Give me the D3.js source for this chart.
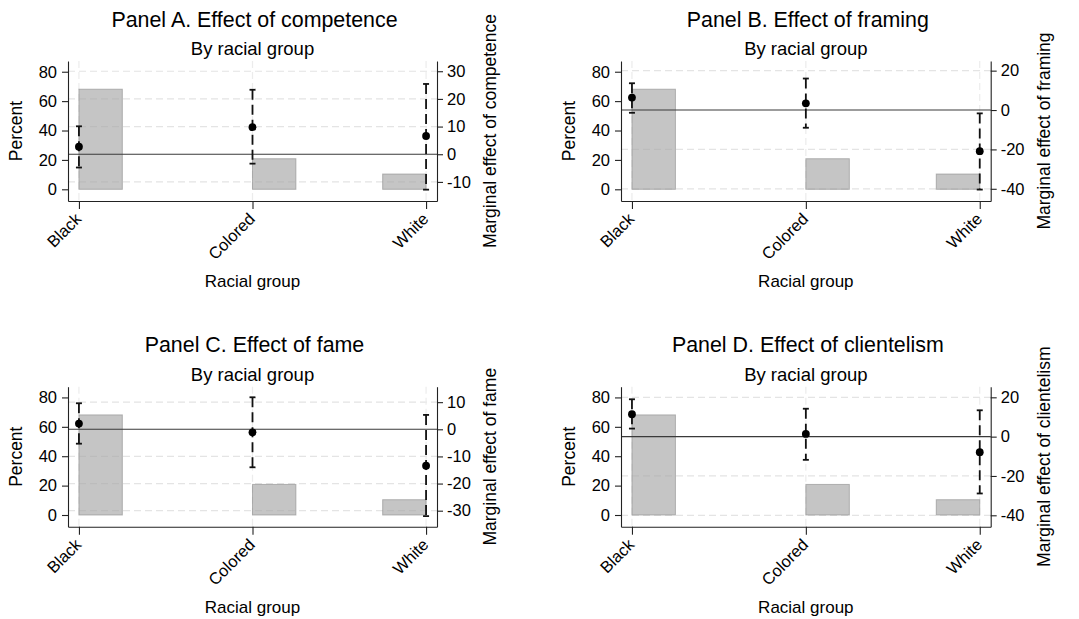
<!DOCTYPE html>
<html><head><meta charset="utf-8">
<script src="https://cdn.jsdelivr.net/npm/d3@7"></script>
<style>
body{margin:0;background:#fff}
svg text{font-family:"Liberation Sans",Arial,Helvetica,sans-serif;fill:#000}
</style>
</head><body>
<svg id="chart" width="1079" height="619"></svg>
<script>
// ---------------- data ----------------
const categories = ["Black", "Colored", "White"];
const categoryPos = [1, 2, 3];
const barPercent = [68.1, 20.8, 10.4];
const binStart = [1, 2, 2.75];
const binWidth = 0.25;
const leftTicks = [0, 20, 40, 60, 80];
const leftDomain = [-7.96, 87.3];

const panelTitles = ["Panel A. Effect of competence", "Panel B. Effect of framing",
                     "Panel C. Effect of fame", "Panel D. Effect of clientelism"];
const subTitle = "By racial group";
const xTitle = "Racial group";
const leftTitle = "Percent";
const rightTitles = ["Marginal effect of competence", "Marginal effect of framing",
                     "Marginal effect of fame", "Marginal effect of clientelism"];

const estA = [2.7, 9.8, 6.6],    loA = [-4.8, -3.4, -12.8],  hiA = [10.1, 23.3, 25.4];
const estB = [6.3, 3.4, -20.9],  loB = [-1.4, -9.0, -40.4],  hiB = [13.6, 16.0, -1.7];
const estC = [2.1, -1.1, -13.4], loC = [-5.3, -14.0, -32.0], hiC = [9.6, 11.8, 5.3];
const estD = [11.4, 1.4, -7.9],  loD = [4.1, -11.8, -28.9],  hiD = [19.0, 14.2, 13.4];

const rightTicksA = [-10, 0, 10, 20, 30];
const rightTicksB = [-40, -20, 0, 20];
const rightTicksC = [-30, -20, -10, 0, 10];
const rightTicksD = [-40, -20, 0, 20];
const rightDomainA = [-16.9, 33.7];
const rightDomainB = [-46.2, 24.9];
const rightDomainC = [-35.9, 15.7];
const rightDomainD = [-45.8, 25.4];

// ---------------- layout ----------------
const boxes = [
  {x0: 68,  x1: 437,   y0: 61,    y1: 201},
  {x0: 621, x1: 990.7, y0: 61,    y1: 201},
  {x0: 68,  x1: 437,   y0: 386.7, y1: 526.7},
  {x0: 621, x1: 990.7, y0: 386.7, y1: 526.7}
];
const panels = [
  {est: estA, lo: loA, hi: hiA, ticks: rightTicksA, dom: rightDomainA},
  {est: estB, lo: loB, hi: hiB, ticks: rightTicksB, dom: rightDomainB},
  {est: estC, lo: loC, hi: hiC, ticks: rightTicksC, dom: rightDomainC},
  {est: estD, lo: loD, hi: hiD, ticks: rightTicksD, dom: rightDomainD}
];

const svg = d3.select("#chart");
svg.append("rect").attr("width", 1079).attr("height", 619).attr("fill", "#fff");

panels.forEach((p, i) => {
  const b = boxes[i];
  const g = svg.append("g");
  const x = d3.scaleLinear().domain([0.937, 3.063]).range([b.x0, b.x1]);
  const yL = d3.scaleLinear().domain(leftDomain).range([b.y1, b.y0]);
  const yR = d3.scaleLinear().domain(p.dom).range([b.y1, b.y0]);
  const cx = (b.x0 + b.x1) / 2, cy = (b.y0 + b.y1) / 2;

  // gridlines (right axis ticks) and vertical at categories
  g.append("g").selectAll("line").data(p.ticks.filter(t => t !== 0)).join("line")
    .attr("x1", b.x0).attr("x2", b.x1)
    .attr("y1", d => yR(d)).attr("y2", d => yR(d))
    .attr("stroke", "#e4e4e4").attr("stroke-width", 1.2).attr("stroke-dasharray", "7,4");
  g.append("g").selectAll("line").data(categoryPos).join("line")
    .attr("x1", d => x(d)).attr("x2", d => x(d))
    .attr("y1", b.y0).attr("y2", b.y1)
    .attr("stroke", "#ececec").attr("stroke-width", 1.2).attr("stroke-dasharray", "7,4");

  // bars (histogram)
  g.append("g").selectAll("rect").data(barPercent).join("rect")
    .attr("x", (d, j) => x(binStart[j]))
    .attr("width", (d, j) => x(binStart[j] + binWidth) - x(binStart[j]))
    .attr("y", d => yL(d))
    .attr("height", d => yL(0) - yL(d))
    .attr("fill", "#a6a6a6").attr("fill-opacity", 0.65)
    .attr("stroke", "#8c8c8c").attr("stroke-opacity", 0.6).attr("stroke-width", 1);

  // zero line
  g.append("line").attr("x1", b.x0).attr("x2", b.x1)
    .attr("y1", yR(0)).attr("y2", yR(0))
    .attr("stroke", "#3a3a3a").attr("stroke-width", 1.1);

  // error bars
  const eg = g.append("g");
  categoryPos.forEach((c, j) => {
    eg.append("line").attr("x1", x(c)).attr("x2", x(c))
      .attr("y1", yR(p.hi[j])).attr("y2", yR(p.lo[j]))
      .attr("stroke", "#111").attr("stroke-width", 1.8).attr("stroke-dasharray", "10,5");
    [p.hi[j], p.lo[j]].forEach(v => {
      eg.append("line").attr("x1", x(c) - 3).attr("x2", x(c) + 3)
        .attr("y1", yR(v)).attr("y2", yR(v))
        .attr("stroke", "#111").attr("stroke-width", 1.8);
    });
  });
  g.append("g").selectAll("circle").data(p.est).join("circle")
    .attr("cx", (d, j) => x(categoryPos[j])).attr("cy", d => yR(d))
    .attr("r", 3.9).attr("fill", "#000");

  // axes
  const styleAxis = sel => {
    sel.selectAll(".domain").attr("stroke", "#222").attr("stroke-width", 1.1);
    sel.selectAll(".tick line").attr("stroke", "#222").attr("stroke-width", 1.1);
    sel.selectAll(".tick text").attr("font-size", 16.5).attr("fill", "#000")
      .style("font-family", '"Liberation Sans",Arial,sans-serif');
  };
  g.append("g").attr("transform", `translate(${b.x0},0)`)
    .call(d3.axisLeft(yL).tickValues(leftTicks).tickSize(6).tickPadding(5).tickSizeOuter(0))
    .call(styleAxis);
  g.append("g").attr("transform", `translate(${b.x1},0)`)
    .call(d3.axisRight(yR).tickValues(p.ticks).tickSize(6).tickPadding(4).tickSizeOuter(0)
      .tickFormat(d => d < 0 ? "-" + Math.abs(d) : d))
    .call(styleAxis);
  const xa = g.append("g").attr("transform", `translate(0,${b.y1})`)
    .call(d3.axisBottom(x).tickValues(categoryPos).tickSize(8).tickSizeOuter(0)
      .tickFormat((d, j) => categories[j]))
    .call(styleAxis);
  xa.selectAll(".tick text")
    .attr("text-anchor", "end")
    .attr("dy", null).attr("y", null)
    .attr("transform", "translate(3,19) rotate(-45)");

  // titles
  g.append("text").attr("x", cx + 2).attr("y", b.y0 - 34.5)
    .attr("text-anchor", "middle").attr("font-size", 21.4).text(panelTitles[i]);
  g.append("text").attr("x", cx).attr("y", b.y0 - 6)
    .attr("text-anchor", "middle").attr("font-size", 18.5).text(subTitle);
  g.append("text").attr("x", cx).attr("y", b.y1 + 86)
    .attr("text-anchor", "middle").attr("font-size", 17).text(xTitle);
  g.append("text").attr("transform", `translate(${b.x0 - 46.5},${cy}) rotate(-90)`)
    .attr("text-anchor", "middle").attr("font-size", 17.5).text(leftTitle);
  g.append("text").attr("transform", `translate(${b.x1 + 59},${cy}) rotate(-90)`)
    .attr("text-anchor", "middle").attr("font-size", 17.5).text(rightTitles[i]);
});
</script>
</body></html>
